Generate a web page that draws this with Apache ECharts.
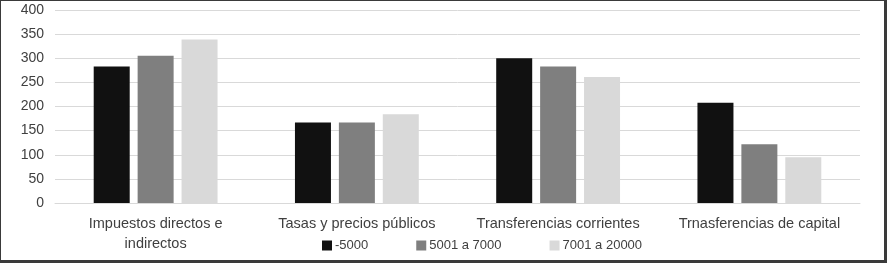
<!DOCTYPE html>
<html>
<head>
<meta charset="utf-8">
<script src="https://cdn.jsdelivr.net/npm/echarts@6/dist/echarts.min.js"></script>
<style>
  html, body { margin: 0; padding: 0; background: #fff; }
  #box {
    width: 883px; height: 259px;
    border-left: 1px solid #3a3a3a; border-top: 1px solid #3a3a3a;
    border-right: 3px solid #3a3a3a; border-bottom: 3px solid #3a3a3a;
    box-sizing: content-box;
  }
</style>
</head>
<body>
<div id="box"></div>
<script>
  // categories and series
  const categories = [
    'Impuestos directos e\nindirectos',
    'Tasas y precios públicos',
    'Transferencias corrientes',
    'Trnasferencias de capital',
  ];
  const seriesNames = ['-5000', '5001 a 7000', '7001 a 20000'];
  const valsLow = [283, 167, 300, 208];
  const valsMid = [305, 167, 283, 122];
  const valsHigh = [339, 184, 261, 95];
  const colors = ['#111111', '#7f7f7f', '#d9d9d9'];

  const font = '"Liberation Sans", Arial, sans-serif';
  const chart = echarts.init(document.getElementById('box'));

  const data = [valsLow, valsMid, valsHigh];
  chart.setOption({
    animation: false,
    textStyle: { fontFamily: font },
    grid: { left: 54, right: 24, top: 9, bottom: 57 },
    legend: {
      left: 316,
      top: 233,
      itemWidth: 10,
      itemHeight: 10,
      itemGap: 48,
      icon: 'rect',
      textStyle: { fontSize: 13, color: '#404040', fontFamily: font, padding: [0, 0, 0, -2] },
      data: seriesNames,
    },
    xAxis: {
      type: 'category',
      data: categories,
      axisLine: { lineStyle: { color: '#d9d9d9', width: 1 } },
      axisTick: { show: false },
      axisLabel: { color: '#404040', fontSize: 14.5, margin: 11, lineHeight: 20, interval: 0 },
    },
    yAxis: {
      type: 'value',
      min: 0,
      max: 400,
      interval: 50,
      axisLine: { show: false },
      axisTick: { show: false },
      splitLine: { lineStyle: { color: '#d9d9d9', width: 1 } },
      axisLabel: { color: '#404040', fontSize: 14, margin: 11 },
    },
    series: seriesNames.map((name, i) => ({
      name: name,
      type: 'bar',
      data: data[i],
      barWidth: 36,
      barGap: '22%',
      itemStyle: { color: colors[i] },
    })),
  });
</script>
</body>
</html>
